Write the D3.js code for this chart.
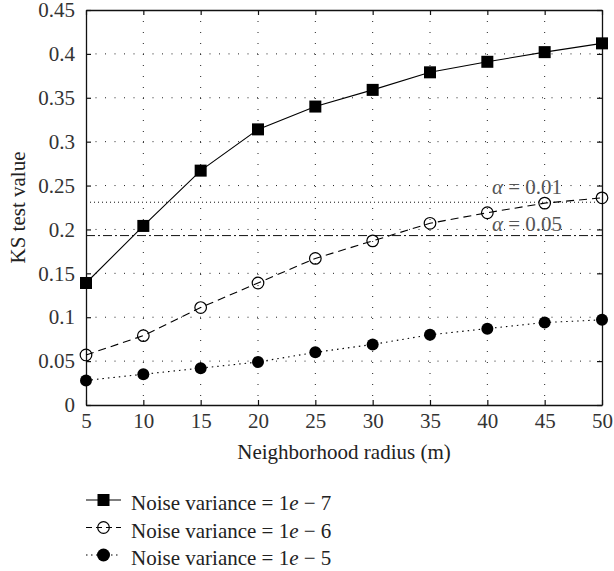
<!DOCTYPE html>
<html>
<head>
<meta charset="utf-8">
<script src="https://cdn.jsdelivr.net/npm/d3@7"></script>
<style>
  body { margin: 0; background: #fff; }
  svg { display: block; font-family: "Liberation Serif", "DejaVu Serif", serif; }
</style>
</head>
<body>
<svg id="chart" width="614" height="571"></svg>
<script>
// data
const radius = [5, 10, 15, 20, 25, 30, 35, 40, 45, 50];
const noise7 = [0.139, 0.204, 0.267, 0.314, 0.340, 0.359, 0.379, 0.391, 0.402, 0.412];
const noise6 = [0.057, 0.079, 0.111, 0.139, 0.167, 0.187, 0.207, 0.219, 0.230, 0.236];
const noise5 = [0.028, 0.035, 0.042, 0.049, 0.060, 0.069, 0.080, 0.087, 0.094, 0.097];
const yTicks = [0, 0.05, 0.1, 0.15, 0.2, 0.25, 0.3, 0.35, 0.4, 0.45];
const alpha01 = 0.231;
const alpha05 = 0.193;
const legendLabels = ['Noise variance = 1', 'Noise variance = 1', 'Noise variance = 1'];
const legendExp = ['7', '6', '5'];

const FS = 21;
const margin = { top: 10, right: 12, bottom: 166, left: 86 };
const svg = d3.select('#chart');
const width = +svg.attr('width');
const height = +svg.attr('height');
const w = width - margin.left - margin.right;
const h = height - margin.top - margin.bottom;

const g = svg.append('g').attr('transform', `translate(${margin.left},${margin.top})`);

const x = d3.scaleLinear().domain([5, 50]).range([0, w]);
const y = d3.scaleLinear().domain([0, 0.45]).range([h, 0]);

/**
 * Dotted grid
 */
g.append('g')
    .selectAll('line')
    .data(radius.slice(1, -1))
    .enter()
    .append('line')
    .attr('x1', (d) => x(d)).attr('x2', (d) => x(d))
    .attr('y1', 0).attr('y2', h)
    .attr('stroke', '#222').attr('stroke-width', 1)
    .attr('stroke-dasharray', '1,10');

g.append('g')
    .selectAll('line')
    .data(yTicks.slice(1, -1))
    .enter()
    .append('line')
    .attr('x1', 0).attr('x2', w)
    .attr('y1', (d) => y(d)).attr('y2', (d) => y(d))
    .attr('stroke', '#222').attr('stroke-width', 1)
    .attr('stroke-dasharray', '1,8.5');

/**
 * Threshold lines
 */
g.append('line')
    .attr('x1', 0).attr('x2', w)
    .attr('y1', y(alpha01)).attr('y2', y(alpha01))
    .attr('stroke', '#111').attr('stroke-width', 1)
    .attr('stroke-dasharray', '1,3');

g.append('line')
    .attr('x1', 0).attr('x2', w)
    .attr('y1', y(alpha05)).attr('y2', y(alpha05))
    .attr('stroke', '#111').attr('stroke-width', 1)
    .attr('stroke-dasharray', '9,3,2,3');

const alphaText = (val, dy, label) => {
    const t = g.append('text')
        .attr('x', x(40.4))
        .attr('y', y(val) + dy)
        .attr('font-size', FS)
        .attr('fill', '#555');
    t.append('tspan').attr('font-style', 'italic').text('α');
    t.append('tspan').text(' = ' + label);
};
alphaText(alpha01, -8, '0.01');
alphaText(alpha05, -5, '0.05');

/**
 * Axes, ticks inward on all four sides
 */
const xAxisB = d3.axisBottom(x).tickValues(radius).tickSizeInner(-5).tickSizeOuter(0).tickPadding(8);
const xAxisT = d3.axisTop(x).tickValues(radius).tickSizeInner(-5).tickSizeOuter(0).tickFormat('');
const yAxisL = d3.axisLeft(y).tickValues(yTicks).tickSizeInner(-5).tickSizeOuter(0).tickPadding(11)
    .tickFormat((d) => d === 0 ? '0' : d3.format('')(+d.toFixed(2)));
const yAxisR = d3.axisRight(y).tickValues(yTicks).tickSizeInner(-5).tickSizeOuter(0).tickFormat('');

const styleAxis = (sel) => {
    sel.attr('font-family', null);
    sel.selectAll('path').attr('stroke', '#111').attr('stroke-width', 1.3);
    sel.selectAll('line').attr('stroke', '#111').attr('stroke-width', 1.2);
    sel.selectAll('text').attr('font-size', FS).attr('fill', '#333');
};

g.append('g').attr('transform', `translate(0,${h})`).call(xAxisB).call(styleAxis);
g.append('g').call(xAxisT).call(styleAxis);
g.append('g').call(yAxisL).call(styleAxis);
g.append('g').attr('transform', `translate(${w},0)`).call(yAxisR).call(styleAxis);

/**
 * Series
 */
const series = [
    { values: noise7, dash: null, legendDash: null, marker: 'square' },
    { values: noise6, dash: '8,5', legendDash: '6,4', marker: 'open' },
    { values: noise5, dash: '1.5,4', legendDash: '1.5,3.5', marker: 'dot' },
];

const line = d3.line().x((d) => x(d[0])).y((d) => y(d[1]));

const drawMarker = (sel, type, cx, cy, big) => {
    if (type === 'square') {
        const s = 12;
        sel.append('rect')
            .attr('x', cx - s / 2).attr('y', cy - s / 2)
            .attr('width', s).attr('height', s)
            .attr('fill', '#000');
    } else if (type === 'open') {
        sel.append('circle').attr('cx', cx).attr('cy', cy).attr('r', 5.8)
            .attr('fill', 'none').attr('stroke', '#000').attr('stroke-width', 1.2);
    } else {
        sel.append('circle').attr('cx', cx).attr('cy', cy).attr('r', big ? 6.5 : 6)
            .attr('fill', '#000');
    }
};

series.forEach((s) => {
    const pts = radius.map((r, i) => [r, s.values[i]]);
    g.append('path')
        .datum(pts)
        .attr('d', line)
        .attr('fill', 'none')
        .attr('stroke', '#000')
        .attr('stroke-width', 1.1)
        .attr('stroke-dasharray', s.dash);
    const mg = g.append('g');
    pts.forEach((p) => drawMarker(mg, s.marker, x(p[0]), y(p[1]), false));
});

/**
 * Axis labels
 */
svg.append('text')
    .attr('x', margin.left + w / 2)
    .attr('y', 459)
    .attr('text-anchor', 'middle')
    .attr('font-size', FS)
    .attr('fill', '#222')
    .text('Neighborhood radius (m)');

svg.append('text')
    .attr('transform', `translate(25,${margin.top + h / 2}) rotate(-90)`)
    .attr('text-anchor', 'middle')
    .attr('font-size', FS)
    .attr('fill', '#222')
    .text('KS test value');

/**
 * Legend
 */
const legend = svg.append('g');
const rowY = [500, 527.5, 555];
series.forEach((s, i) => {
    const row = legend.append('g');
    row.append('line')
        .attr('x1', 86).attr('x2', 121)
        .attr('y1', rowY[i]).attr('y2', rowY[i])
        .attr('stroke', '#000').attr('stroke-width', 1.2)
        .attr('stroke-dasharray', s.legendDash);
    drawMarker(row, s.marker, 103.5, rowY[i], true);
    const t = row.append('text')
        .attr('x', 131).attr('y', rowY[i] + 10)
        .attr('font-size', FS)
        .attr('fill', '#222');
    t.append('tspan').text(legendLabels[i]);
    t.append('tspan').attr('font-style', 'italic').text('e');
    t.append('tspan').text(' − ' + legendExp[i]);
});
</script>
</body>
</html>
